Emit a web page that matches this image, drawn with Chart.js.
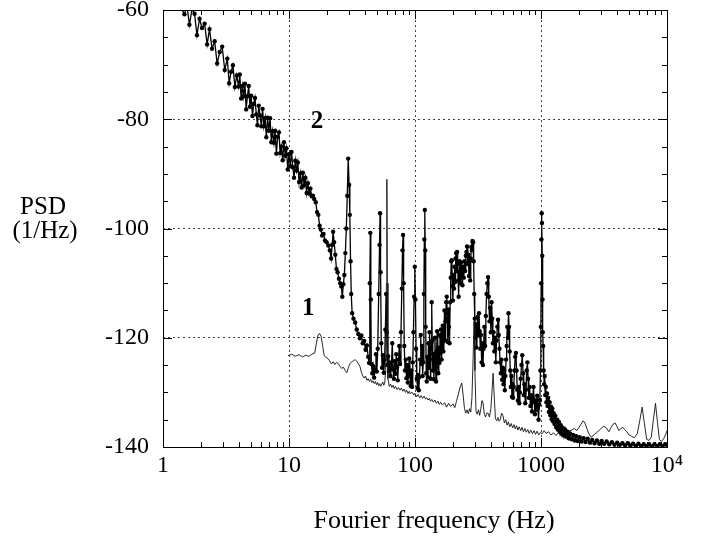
<!DOCTYPE html>
<html>
<head>
<meta charset="utf-8">
<script src="https://cdn.jsdelivr.net/npm/chart.js@4.4.0/dist/chart.umd.min.js"></script>
<style>
  html, body { margin: 0; padding: 0; background: #fff; }
  canvas { display: block; }
</style>
</head>
<body>
<canvas id="psd_chart" width="711" height="539"></canvas>
<script>
// curve 2 (with markers)
const freq2 = [1.41,1.48,1.55,1.62,1.70,1.78,1.86,1.95,2.04,2.14,2.24,2.34,2.45,2.57,2.69,2.82,2.95,3.09,3.24,3.35,
  3.47,3.59,3.72,3.85,3.98,4.07,4.17,4.27,4.37,4.47,4.57,4.68,4.79,4.90,5.01,5.13,5.25,5.37,5.50,5.62,
  5.75,5.89,6.03,6.17,6.31,6.46,6.61,6.76,6.92,7.08,7.24,7.41,7.59,7.76,7.94,8.13,8.32,8.51,8.71,8.91,
  9.12,9.33,9.55,9.77,10.0,10.23,10.47,10.72,10.96,11.22,11.48,11.75,12.02,12.30,12.59,12.88,13.18,13.49,13.80,14.13,
  14.45,14.79,15.14,15.49,15.85,16.3,16.7,17.1,17.5,17.9,18.3,18.8,19.3,19.9,20.5,21.1,21.6,22.0,22.4,22.8,
  23.3,23.8,24.3,24.9,25.5,26.0,26.5,27.0,27.5,28.0,28.5,29.0,29.5,30.0,30.4,30.8,31.2,31.7,32.5,33.5,
  34.5,35.5,36.5,37.5,38.5,39.5,40.5,41.5,42.5,43.2,43.8,44.2,44.6,45.0,45.8,46.6,47.4,48.2,49.0,49.8,
  50.6,51.5,52.3,52.8,53.3,54.0,54.8,55.6,56.5,57.4,58.2,59.0,59.6,60.3,61.2,62.1,63.0,64.0,65.0,66.0,
  67.0,68.0,69.0,70.0,71.0,72.0,73.0,74.0,75.0,76.2,77.4,78.6,79.6,80.4,81.2,82.2,83.3,84.4,85.5,86.6,
  87.7,88.8,90.0,91.2,92.4,93.6,94.8,96.0,97.2,98.4,99.6,100.8,102.0,103.3,104.6,105.9,107.2,108.5,109.8,111.1,
  112.4,113.7,115.0,116.3,117.6,118.6,119.6,120.6,121.6,122.8,124.0,125.3,126.6,127.9,129.2,130.5,131.8,133.1,134.4,135.7,
  137.0,138.4,139.8,141.2,142.6,144.0,145.5,147.0,148.5,150.0,151.5,153.0,154.6,156.2,157.8,159.4,161.0,162.6,164.2,166.0,
  167.8,169.6,171.4,173.2,175.0,176.8,178.6,180.4,182.2,184.0,186,188,190,192,194,196,198,200,202,204,
  206,208,210,212,214,216,218,220,222,224,226,228,230,232,235,238,241,244,247,250,
  253,256,259,262,265,268,271,274,277,280,283,286,289,292,295,298,301,304,307,310,
  314,318,322,326,330,334,338,342,346,350,355,360,365,370,375,380,385,390,395,400,
  405,410,415,420,426,432,438,444,450,456,462,468,474,480,486,492,498,504,510,516,
  522,528,534,540,546,552,558,564,570,576,582,588,594,600,608,616,624,632,640,648,
  656,664,672,680,690,700,710,720,730,740,750,760,770,780,790,800,812,824,836,848,
  860,872,884,896,908,920,932,944,956,968,980,990,997,1003,1008,1013,1018,1023,1028,1033,
  1040,1050,1060,1070,1080,1092,1104,1116,1128,1140,1155,1170,1185,1200,1215,1230,1245,1260,1280,1300,
  1320,1340,1360,1385,1410,1435,1460,1490,1520,1550,1580,1620,1660,1700,1750,1800,1850,1900,1960,2030,
  2100,2180,2260,2350,2450,2550,2660,2780,2900,3030,3170,3320,3480,3650,3830,4020,4220,4430,4650,4880,
  5120,5380,5650,5930,6230,6540,6870,7210,7570,7950,8350,8770,9210,9660,10000];
const psd2 = [-59.8,-60.8,-59.2,-62.7,-59.8,-60.7,-64.6,-61.6,-63.3,-62.5,-66.3,-63.5,-67.1,-65.7,-69.8,-67.7,-66.7,-71.0,-68.9,-73.4,
  -71.3,-70.1,-74.1,-72.0,-74.0,-71.8,-76.2,-73.9,-75.8,-73.5,-78.2,-75.8,-73.9,-77.7,-75.7,-79.4,-77.2,-76.1,-79.1,-81.1,
  -77.5,-79.3,-81.3,-78.1,-81.3,-79.8,-83.3,-79.7,-82.1,-79.8,-84.2,-82.2,-84.3,-82.1,-86.3,-83.2,-82.4,-86.2,-85.0,-87.5,
  -84.2,-86.7,-85.3,-89.2,-86.4,-88.6,-86.0,-88.8,-90.7,-87.6,-89.4,-87.9,-91.5,-89.9,-92.5,-89.8,-92.1,-90.7,-93.5,-91.7,
  -93.6,-92.7,-94.1,-94.0,-94.6,-95.2,-97.0,-97.5,-99.5,-100.2,-101.3,-101.0,-102.2,-102.5,-103.1,-104.0,-105.5,-103.0,-100.6,-102.5,
  -104.8,-107.4,-108.0,-109.2,-110.0,-110.6,-112.5,-110.2,-108.5,-104.5,-100.0,-94.0,-87.2,-92.0,-97.5,-106.0,-112.0,-115.5,-116.5,-117.2,
  -118.5,-119.3,-120.1,-119.6,-121.0,-120.6,-122.2,-121.4,-123.5,-124.6,-110.0,-100.8,-113.0,-124.8,-126.5,-125.2,-127.3,-125.8,-123.0,-126.2,
  -122.0,-112.0,-103.0,-97.2,-108.0,-121.0,-125.5,-123.2,-126.4,-124.0,-118.5,-112.0,-119.0,-125.0,-123.4,-126.2,-124.5,-127.0,-125.2,-121.0,
  -125.8,-127.5,-124.3,-126.6,-123.0,-125.4,-127.8,-124.0,-121.5,-124.8,-119.0,-111.0,-104.0,-101.2,-110.0,-121.5,-126.0,-124.0,-127.4,-125.0,
  -128.2,-126.3,-123.8,-127.0,-128.8,-126.0,-129.0,-124.5,-119.0,-112.5,-107.0,-113.0,-122.0,-127.5,-129.2,-126.8,-129.6,-127.2,-124.0,-119.5,
  -124.8,-121.5,-127.0,-124.5,-112.0,-102.0,-96.6,-104.0,-118.0,-126.5,-128.0,-123.5,-127.2,-121.0,-125.5,-119.0,-124.0,-127.5,-121.0,-113.5,
  -120.5,-126.0,-123.0,-127.6,-124.2,-120.0,-125.5,-128.0,-122.5,-118.8,-123.0,-126.5,-121.8,-124.6,-119.5,-122.7,-118.5,-124.0,-121.0,-117.8,
  -122.5,-119.8,-115.0,-120.5,-117.0,-113.5,-112.5,-116.5,-120.8,-114.8,-118.0,-121.0,-113.5,-109.0,-106.0,-105.8,-110.5,-113.2,-108.5,-111.0,
  -107.0,-109.8,-105.5,-104.5,-107.8,-104.3,-106.5,-109.5,-112.5,-108.0,-106.0,-110.0,-107.3,-106.2,-108.6,-110.4,-107.0,-109.0,-106.0,-107.8,
  -105.0,-104.3,-103.3,-106.5,-104.8,-108.7,-106.0,-109.5,-105.5,-103.4,-104.0,-102.3,-102.5,-106.0,-112.0,-116.5,-120.0,-117.5,-121.8,-119.0,
  -116.2,-119.5,-115.5,-118.8,-122.0,-119.5,-124.5,-121.0,-125.0,-122.0,-118.0,-121.5,-116.0,-112.0,-110.0,-108.9,-112.5,-117.0,-114.5,-119.0,
  -113.5,-116.5,-121.0,-119.0,-122.5,-120.0,-124.5,-120.5,-118.0,-116.7,-119.5,-122.0,-124.5,-126.5,-124.0,-127.7,-125.5,-128.5,-126.0,-129.6,
  -127.0,-124.0,-121.5,-118.0,-120.0,-115.5,-118.0,-122.5,-126.0,-129.0,-127.0,-130.8,-128.5,-131.0,-129.0,-126.0,-123.5,-122.8,-126.0,-129.5,
  -131.5,-129.0,-132.0,-130.0,-127.5,-125.0,-123.2,-126.5,-130.5,-128.5,-132.0,-129.5,-126.0,-124.5,-127.5,-131.0,-129.0,-132.5,-130.5,-133.5,
  -131.0,-129.0,-131.8,-134.0,-131.5,-133.2,-130.6,-132.8,-135.0,-132.2,-131.4,-126.0,-118.0,-110.0,-102.0,-97.2,-99.0,-105.0,-113.0,-119.0,
  -121.5,-126.0,-128.5,-127.0,-130.5,-129.0,-131.8,-130.2,-132.5,-131.0,-133.6,-131.8,-134.2,-132.6,-134.9,-133.0,-135.3,-133.8,-135.8,-134.3,
  -136.4,-135.0,-136.8,-135.4,-137.2,-136.0,-137.6,-136.5,-137.9,-136.8,-138.1,-137.2,-138.4,-137.5,-138.6,-137.8,-138.8,-138.0,-138.9,-138.2,
  -139.0,-138.4,-139.1,-138.5,-139.2,-138.7,-139.3,-138.8,-139.4,-138.9,-139.4,-139.0,-139.5,-139.1,-139.6,-139.2,-139.6,-139.3,-139.7,-139.3,
  -139.7,-139.4,-139.8,-139.4,-139.8,-139.5,-139.8,-139.5,-139.9,-139.5,-139.8,-139.5,-139.8,-139.5,-139.6];

// curve 1 (plain line)
const freq1 = [9.8,10.5,11.2,12.0,12.8,13.6,14.4,15.2,16.0,16.5,17.0,17.5,18.0,18.5,19.0,19.6,20.3,21.0,21.7,22.4,
  23.1,23.8,24.5,25.3,26.1,27.0,27.9,28.8,29.6,30.5,31.5,32.5,33.5,34.5,35.5,36.5,37.5,38.5,39.5,40.5,
  41.5,42.5,43.5,44.5,45.5,46.5,47.5,48.5,49.5,50.5,51.5,52.5,53.5,54.5,55.5,56.5,57.5,58.5,59.3,59.8,
  60.3,61,62.5,64,65.5,67,68.5,70,72,74,76,78,80,82,84,86,88,90,92,94,
  96,98,100,103,106,109,112,115,118,121,124,127,130,133,136,140,144,148,152,156,
  160,165,172,178,185,192,200,207,214,220,228,235,241,247,253,259,265,271,277,283,
  289,294,299,305,312,319,326,333,340,347,355,363,371,380,390,400,408,417,426,435,
  445,455,465,475,487,500,512,525,538,551,565,580,595,610,625,640,656,672,690,708,
  725,745,765,785,805,830,855,880,905,930,960,990,1020,1060,1100,1150,1200,1260,1320,1380,
  1450,1520,1600,1680,1760,1840,1920,2000,2080,2160,2230,2310,2400,2500,2620,2750,2880,3000,3150,3300,
  3450,3600,3750,3870,4000,4150,4300,4450,4600,4800,5000,5200,5500,5800,6100,6350,6600,6900,7200,7500,
  7800,8100,8400,8700,9000,9400,9800,10000];
const psd1 = [-123.3,-123.0,-123.4,-123.1,-123.5,-123.2,-123.4,-123.0,-122.8,-121.0,-119.5,-119.2,-119.8,-121.5,-123.2,-123.6,-123.8,-124.2,-124.8,-124.4,
  -124.9,-124.5,-124.7,-125.2,-125.6,-125.4,-126.0,-126.4,-125.5,-124.7,-124.4,-124.2,-124.0,-124.3,-124.8,-125.2,-126.3,-127.0,-127.4,-127.0,
  -127.8,-127.5,-128.0,-127.6,-128.2,-127.9,-128.4,-128.0,-128.6,-128.2,-128.8,-128.4,-128.9,-128.5,-128.1,-128.7,-128.3,-126.0,-110.0,-91.0,
  -110.0,-127.5,-128.9,-128.5,-129.1,-128.7,-129.3,-128.9,-129.5,-129.1,-129.6,-129.2,-129.8,-129.4,-130.0,-129.6,-130.2,-129.8,-130.3,-130.0,
  -130.1,-130.5,-130.2,-130.8,-130.4,-131.0,-130.6,-131.1,-130.7,-131.2,-131.0,-131.4,-131.1,-131.6,-131.3,-131.8,-131.4,-132.0,-131.6,-132.2,
  -131.8,-132.3,-131.9,-132.7,-132.0,-132.6,-132.1,-132.8,-131.5,-130.5,-129.0,-128.3,-130.5,-133.0,-133.8,-133.2,-133.9,-133.0,-133.6,-131.0,
  -124.0,-117.0,-126.0,-133.5,-134.0,-133.2,-134.2,-133.0,-131.5,-132.0,-134.0,-134.5,-133.8,-133.8,-134.5,-133.0,-130.0,-126.5,-131.0,-134.8,
  -135.2,-134.6,-135.3,-135.0,-133.8,-134.3,-135.6,-135.0,-136.0,-135.4,-136.3,-135.7,-136.5,-135.9,-136.7,-136.1,-136.9,-136.3,-137.0,-136.4,
  -137.2,-136.6,-137.3,-136.8,-137.5,-136.9,-137.6,-137.0,-137.7,-137.1,-137.8,-137.3,-137.6,-137.0,-137.5,-137.2,-137.8,-137.4,-137.9,-137.3,
  -137.8,-137.2,-137.6,-137.0,-136.9,-136.6,-137.0,-136.4,-135.8,-135.2,-135.6,-136.6,-137.6,-138.2,-137.8,-137.4,-137.0,-136.6,-136.2,-136.5,
  -137.2,-136.4,-135.8,-135.6,-136.2,-137.0,-136.6,-136.4,-136.8,-137.2,-137.8,-138.0,-138.3,-137.6,-135.0,-132.7,-135.5,-138.6,-138.8,-138.2,
  -135.0,-132.0,-135.5,-138.6,-139.0,-138.5,-137.6,-137.0];

// axis labels and in-plot curve numbers
const yTickLabels = [-60, -80, -100, -120, -140];
const xTickLabels = {1: '1', 10: '10', 100: '100', 1000: '1000', 10000: '10\u2074'};
const xTitle = 'Fourier frequency (Hz)';
const yTitle = ['PSD', '(1/Hz)'];
const curveNames = [
  {text: '2', f: 16.7, v: -80.5},
  {text: '1', f: 14.2, v: -114.6}
];

const serif = '"Liberation Serif", "Times New Roman", serif';

function isDecade(v) {
  const l = Math.log10(v);
  return Math.abs(l - Math.round(l)) < 1e-9;
}

const framePlugin = {
  id: 'frame',
  afterDatasetsDraw(chart) {
    const {ctx, chartArea: a, scales: {x, y}} = chart;
    ctx.save();
    ctx.strokeStyle = '#000';
    ctx.lineWidth = 1;
    ctx.beginPath();
    // inward ticks on left / right
    for (let v = -140; v <= -60; v += 5) {
      const py = Math.round(y.getPixelForValue(v)) + 0.5;
      const len = v % 20 === 0 ? 9 : 5;
      ctx.moveTo(a.left, py); ctx.lineTo(a.left + len, py);
      ctx.moveTo(a.right, py); ctx.lineTo(a.right - len, py);
    }
    // inward log ticks on bottom / top
    for (let d = 1; d < 10000; d *= 10) {
      for (let m = 1; m <= 10; m++) {
        const px = Math.round(x.getPixelForValue(d * m)) + 0.5;
        const len = (m === 1 || m === 10) ? 9 : 5;
        ctx.moveTo(px, a.bottom); ctx.lineTo(px, a.bottom - len);
        ctx.moveTo(px, a.top); ctx.lineTo(px, a.top + len);
      }
    }
    ctx.stroke();
    ctx.strokeRect(Math.round(a.left) + 0.5, Math.round(a.top) + 0.5,
      Math.round(a.width), Math.round(a.height));
    ctx.restore();
  },
  afterDraw(chart) {
    const {ctx, scales: {x, y}} = chart;
    ctx.save();
    ctx.fillStyle = '#000';
    ctx.textAlign = 'center';
    ctx.textBaseline = 'middle';
    ctx.font = '25px ' + serif;
    ctx.fillText(yTitle[0], 43, 207);
    ctx.fillText(yTitle[1], 45, 231);
    ctx.font = '26px ' + serif;
    ctx.fillText(xTitle, 434, 521);
    ctx.font = 'bold 25px ' + serif;
    curveNames.forEach(function (c) {
      ctx.fillText(c.text, x.getPixelForValue(c.f), y.getPixelForValue(c.v));
    });
    ctx.restore();
  }
};

const config = {
  type: 'line',
  data: {
    datasets: [{
      label: '1',
      data: freq1.map(function (f, i) { return {x: f, y: psd1[i]}; }),
      borderColor: '#111',
      borderWidth: 0.9,
      pointRadius: 0,
      tension: 0
    }, {
      label: '2',
      data: freq2.map(function (f, i) { return {x: f, y: psd2[i]}; }),
      borderColor: '#000',
      borderWidth: 1.3,
      pointRadius: 2.2,
      pointBackgroundColor: '#000',
      pointBorderWidth: 0,
      tension: 0
    }]
  },
  options: {
    responsive: false,
    animation: false,
    devicePixelRatio: 1,
    layout: { padding: { left: 0, right: 44, top: 10, bottom: 0 } },
    plugins: { legend: { display: false }, tooltip: { enabled: false } },
    scales: {
      x: {
        type: 'logarithmic',
        min: 1,
        max: 10000,
        afterFit: function (scale) { scale.height = 92; scale.paddingLeft = 0; scale.paddingRight = 0; },
        border: { display: false, dash: [2, 3] },
        grid: {
          drawTicks: false,
          lineWidth: 1,
          color: function (c) {
            const v = c.tick && c.tick.value;
            return (v > 1 && v < 10000 && isDecade(v)) ? '#444' : 'rgba(0,0,0,0)';
          }
        },
        ticks: {
          autoSkip: false,
          maxRotation: 0,
          padding: 4,
          color: '#000',
          font: { family: serif, size: 24 },
          callback: function (v) { return xTickLabels[v] || ''; }
        }
      },
      y: {
        min: -140,
        max: -60,
        afterFit: function (scale) { scale.width = 163; scale.paddingTop = 0; scale.paddingBottom = 0; },
        border: { display: false, dash: [2, 3] },
        grid: {
          drawTicks: false,
          lineWidth: 1,
          color: function (c) {
            const v = c.tick && c.tick.value;
            return (v > -140 && v < -60 && v % 20 === 0) ? '#444' : 'rgba(0,0,0,0)';
          }
        },
        ticks: {
          stepSize: 5,
          autoSkip: false,
          padding: 14,
          color: '#000',
          font: { family: serif, size: 24 },
          callback: function (v) { return yTickLabels.indexOf(v) >= 0 ? String(v) : ''; }
        }
      }
    }
  },
  plugins: [framePlugin]
};

new Chart(document.getElementById('psd_chart').getContext('2d'), config);
</script>
</body>
</html>
